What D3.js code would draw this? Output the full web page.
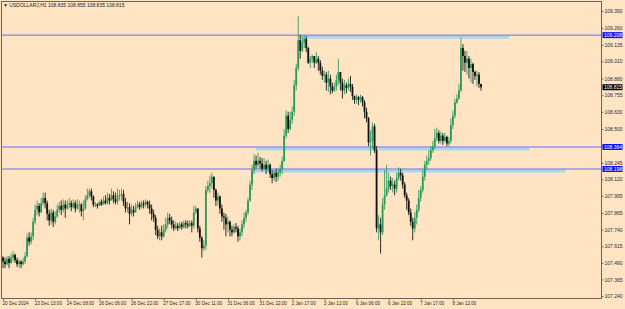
<!DOCTYPE html>
<html>
<head>
<meta charset="utf-8">
<script src="https://cdn.jsdelivr.net/npm/d3@7"></script>
<style>
  body { margin: 0; background: #ffe4c4; }
  svg { display: block; }
  text { font-family: "Liberation Sans", Arial, sans-serif; }
</style>
</head>
<body>
<div id="chart"></div>
<script>
// H1 candles; each open is the previous close
const firstOpen = 107.53;
const closes = [
  107.50,107.48,107.52,107.49,107.53,107.55,107.51,107.48,107.50,107.48,
  107.50,107.54,107.68,107.65,107.69,107.80,107.89,107.92,107.87,107.94,
  107.98,107.94,107.86,107.81,107.87,107.80,107.84,107.89,107.92,107.89,
  107.93,107.90,107.93,107.94,107.91,107.94,107.90,107.93,107.93,107.88,
  107.90,107.97,108.00,108.03,107.99,107.93,107.93,107.92,107.95,107.93,
  107.96,107.94,107.98,107.96,108.00,107.97,107.95,108.00,108.00,108.01,
  107.95,107.90,107.91,107.86,107.89,107.87,107.91,107.93,107.91,107.94,
  107.93,107.95,107.93,107.90,107.86,107.83,107.74,107.69,107.72,107.69,
  107.74,107.78,107.83,107.81,107.78,107.75,107.77,107.75,107.78,107.76,
  107.79,107.78,107.77,107.79,107.77,107.87,107.90,107.75,107.68,107.60,
  107.62,108.04,108.07,108.09,108.14,108.04,107.96,107.99,107.90,107.84,
  107.83,107.78,107.80,107.74,107.72,107.76,107.75,107.69,107.72,107.78,
  107.83,107.87,107.96,108.08,108.19,108.26,108.23,108.26,108.24,108.20,
  108.23,108.20,108.23,108.16,108.13,108.17,108.14,108.17,108.20,108.26,
  108.45,108.60,108.50,108.57,108.63,108.83,108.96,109.17,109.09,109.15,
  109.18,109.11,109.00,109.03,109.05,109.00,109.03,109.00,108.94,108.90,
  108.91,108.85,108.88,108.82,108.79,108.82,108.87,108.93,108.85,108.79,
  108.83,108.81,108.84,108.82,108.75,108.72,108.74,108.72,108.74,108.70,
  108.63,108.58,108.40,108.41,108.52,108.34,107.75,107.78,107.72,107.93,
  108.00,108.05,108.11,108.07,108.08,108.05,108.13,108.17,108.15,108.08,
  108.00,107.96,107.87,107.80,107.75,107.83,107.89,107.98,108.04,108.14,
  108.23,108.26,108.28,108.34,108.37,108.43,108.47,108.41,108.45,108.41,
  108.44,108.39,108.41,108.53,108.60,108.70,108.73,108.79,109.11,109.05,
  109.00,109.03,108.96,108.99,108.93,108.90,108.91,108.84,108.815
];
const highs = [
  107.54,107.53,107.54,107.54,107.56,107.58,107.56,107.53,107.52,107.51,
  107.53,107.57,107.71,107.72,107.72,107.83,107.93,107.96,107.94,107.98,
  108.02,108.02,107.96,107.89,107.90,107.89,107.88,107.93,107.95,107.96,
  107.97,107.96,107.96,107.98,107.96,107.97,107.96,107.97,107.96,107.94,
  107.96,108.00,108.05,108.05,108.05,108.00,107.95,107.94,107.96,107.97,
  107.99,108.00,108.02,108.01,108.05,108.03,108.02,108.05,108.04,108.05,
  108.04,107.98,107.95,107.94,107.93,107.92,107.94,107.96,107.95,107.96,
  107.96,107.97,107.96,107.96,107.93,107.89,107.85,107.77,107.75,107.77,
  107.78,107.83,107.87,107.86,107.84,107.81,107.80,107.79,107.80,107.80,
  107.81,107.81,107.81,107.81,107.81,107.92,107.92,107.90,107.77,107.69,
  107.66,108.07,108.11,108.15,108.17,108.14,108.05,108.02,108.00,107.93,
  107.87,107.86,107.84,107.81,107.77,107.78,107.79,107.77,107.75,107.81,
  107.87,107.89,107.98,108.11,108.23,108.31,108.30,108.32,108.29,108.28,
  108.28,108.26,108.27,108.24,108.19,108.19,108.20,108.20,108.23,108.29,
  108.50,108.64,108.63,108.63,108.67,108.87,108.99,109.35,109.21,109.20,
  109.21,109.20,109.12,109.05,109.06,109.05,109.08,109.05,109.02,108.97,
  108.94,108.93,108.94,108.91,108.85,108.85,108.91,109.03,108.93,108.88,
  108.87,108.85,108.88,108.90,108.84,108.75,108.76,108.75,108.76,108.75,
  108.72,108.66,108.59,108.49,108.55,108.54,108.37,107.85,107.83,107.98,
  108.19,108.23,108.17,108.14,108.13,108.11,108.17,108.21,108.20,108.17,
  108.10,108.02,107.98,107.90,107.83,107.87,107.93,108.04,108.07,108.19,
  108.26,108.30,108.34,108.37,108.41,108.50,108.51,108.49,108.48,108.47,
  108.47,108.45,108.44,108.58,108.64,108.73,108.76,108.84,109.19,109.14,
  109.09,109.09,109.05,109.03,109.00,108.94,108.94,108.93,108.84
];
const lows = [
  107.45,107.45,107.47,107.45,107.48,107.50,107.49,107.46,107.45,107.45,
  107.47,107.48,107.53,107.62,107.63,107.66,107.78,107.85,107.84,107.87,
  107.92,107.90,107.81,107.77,107.78,107.76,107.78,107.83,107.87,107.85,
  107.87,107.83,107.89,107.90,107.88,107.90,107.87,107.89,107.87,107.84,
  107.81,107.89,107.96,107.98,107.96,107.91,107.91,107.90,107.92,107.92,
  107.93,107.93,107.93,107.93,107.96,107.94,107.93,107.93,107.96,107.96,
  107.92,107.87,107.87,107.78,107.84,107.84,107.87,107.90,107.89,107.90,
  107.90,107.91,107.90,107.86,107.81,107.80,107.70,107.67,107.66,107.66,
  107.68,107.72,107.75,107.78,107.75,107.73,107.74,107.73,107.75,107.74,
  107.75,107.75,107.75,107.76,107.72,107.75,107.86,107.72,107.65,107.53,
  107.58,107.59,108.02,108.02,108.05,107.98,107.92,107.92,107.86,107.80,
  107.74,107.69,107.72,107.69,107.69,107.71,107.72,107.65,107.66,107.69,
  107.75,107.80,107.85,107.95,108.04,108.16,108.20,108.21,108.20,108.18,
  108.19,108.16,108.18,108.13,108.09,108.11,108.10,108.11,108.14,108.16,
  108.25,108.43,108.47,108.49,108.54,108.60,108.79,108.94,109.03,109.08,
  109.11,109.08,108.99,108.96,109.00,108.96,108.99,108.94,108.91,108.87,
  108.85,108.79,108.78,108.76,108.77,108.78,108.79,108.83,108.79,108.73,
  108.76,108.77,108.79,108.78,108.72,108.69,108.69,108.68,108.70,108.67,
  108.58,108.55,108.37,108.30,108.35,108.32,107.72,107.66,107.56,107.70,
  107.89,107.99,108.02,108.04,108.02,108.00,108.02,108.11,108.11,108.05,
  107.98,107.89,107.85,107.77,107.66,107.72,107.78,107.87,107.95,108.02,
  108.11,108.19,108.23,108.26,108.32,108.35,108.41,108.39,108.39,108.38,
  108.40,108.37,108.37,108.39,108.50,108.58,108.69,108.72,108.78,108.94,
  108.93,108.91,108.88,108.85,108.84,108.87,108.82,108.81,108.79
];

const timeLabels = ['20 Dec 2024', '23 Dec 13:00', '24 Dec 08:00', '26 Dec 06:00', '26 Dec 22:00',
  '27 Dec 17:00', '30 Dec 11:00', '31 Dec 06:00', '31 Dec 22:00', '2 Jan 17:00', '3 Jan 12:00',
  '6 Jan 06:00', '6 Jan 22:00', '7 Jan 17:00', '8 Jan 12:00'];
const barsPerLabel = 16;

const priceTicks = [109.390, 109.260, 109.135, 109.010, 108.880, 108.755, 108.630, 108.500, 108.375,
  108.245, 108.120, 107.995, 107.865, 107.740, 107.615, 107.490, 107.365, 107.240];

// horizontal levels and the zones drawn from them (start/end in bars)
const levels = [109.208, 108.364, 108.198];
const zoneStart = [147, 126, 124];
const zoneEnd = [252, 262, 280];

const title = 'USDOLLARJ,H1  108.835 108.855 108.835 108.815';
const lastPrice = 108.815;

const W = 625, H = 309;
const plot = { left: 1.5, right: 601.5, top: 1.5, bottom: 298.5 };

const svg = d3.select('#chart').append('svg')
  .attr('width', W)
  .attr('height', H);

svg.append('rect')
  .attr('width', W)
  .attr('height', H)
  .attr('fill', '#ffe4c4');

const x = d3.scaleLinear().domain([0, closes.length - 1]).range([3, 481]);
const y = d3.scaleLinear().domain([107.24, 109.39]).range([296, 11]);

const bars = closes.map((c, i) => ({
  i,
  open: i === 0 ? firstOpen : closes[i - 1],
  close: c,
  high: highs[i],
  low: lows[i],
}));

// levels + zones
const lvl = svg.append('g');
levels.forEach((p, k) => {
  lvl.append('rect')
    .attr('x', x(zoneStart[k]))
    .attr('y', y(p) + 0.5)
    .attr('width', x(zoneEnd[k]) - x(zoneStart[k]))
    .attr('height', 3)
    .attr('fill', '#a9d6e8');
  lvl.append('line')
    .attr('x1', plot.left).attr('x2', plot.right)
    .attr('y1', y(p)).attr('y2', y(p))
    .attr('stroke', '#6a6aff')
    .attr('stroke-width', 1);
});

// candles
const up = '#2a9a58', down = '#111';
const candles = svg.append('g').selectAll('g')
  .data(bars)
  .enter()
  .append('g');

candles.append('line')
  .attr('x1', (d) => x(d.i)).attr('x2', (d) => x(d.i))
  .attr('y1', (d) => y(d.high)).attr('y2', (d) => y(d.low))
  .attr('stroke', (d) => d.close >= d.open ? up : down)
  .attr('stroke-opacity', 0.85)
  .attr('stroke-width', 1);

candles.append('rect')
  .attr('x', (d) => x(d.i) - 0.9)
  .attr('width', 1.8)
  .attr('y', (d) => y(Math.max(d.open, d.close)))
  .attr('height', (d) => Math.max(1, Math.abs(y(d.open) - y(d.close))))
  .attr('fill', (d) => d.close >= d.open ? up : down);

// frame
svg.append('rect')
  .attr('x', plot.left).attr('y', plot.top)
  .attr('width', plot.right - plot.left)
  .attr('height', plot.bottom - plot.top)
  .attr('fill', 'none')
  .attr('stroke', '#6f6354')
  .attr('stroke-width', 1);

// price axis
const yAxis = svg.append('g')
  .attr('transform', `translate(${plot.right},0)`)
  .call(d3.axisRight(y).tickValues(priceTicks).tickFormat(d3.format('.3f')).tickSize(2).tickPadding(1));
yAxis.select('.domain').remove();
yAxis.selectAll('line').attr('stroke', '#6f6354');
yAxis.selectAll('text').attr('font-size', 5).attr('fill', '#2a2a2a');

// time axis
const labelIdx = timeLabels.map((t, k) => k * barsPerLabel);
const xAxis = svg.append('g')
  .attr('transform', `translate(0,${plot.bottom})`)
  .call(d3.axisBottom(x).tickValues(labelIdx).tickFormat((d, k) => timeLabels[k]).tickSize(2).tickPadding(1));
xAxis.select('.domain').remove();
xAxis.selectAll('line').attr('stroke', '#6f6354');
xAxis.selectAll('text')
  .attr('font-size', 4.6)
  .attr('fill', '#2a2a2a')
  .attr('text-anchor', 'start')
  .attr('dx', -1);

// price tags on the axis
function tag(p, bg) {
  const g = svg.append('g').attr('transform', `translate(${plot.right + 1},${y(p)})`);
  g.append('rect')
    .attr('x', 0).attr('y', -3)
    .attr('width', 20).attr('height', 6)
    .attr('fill', bg);
  g.append('text')
    .attr('x', 1.5).attr('y', 1.8)
    .attr('font-size', 5)
    .attr('fill', '#fff')
    .text(d3.format('.3f')(p));
}
levels.forEach((p) => tag(p, '#1010ff'));
tag(lastPrice, '#000');

// title
svg.append('text')
  .attr('x', 3).attr('y', 7)
  .attr('font-size', 5)
  .attr('fill', '#222')
  .text('\u25BC ' + title);
</script>
</body>
</html>
